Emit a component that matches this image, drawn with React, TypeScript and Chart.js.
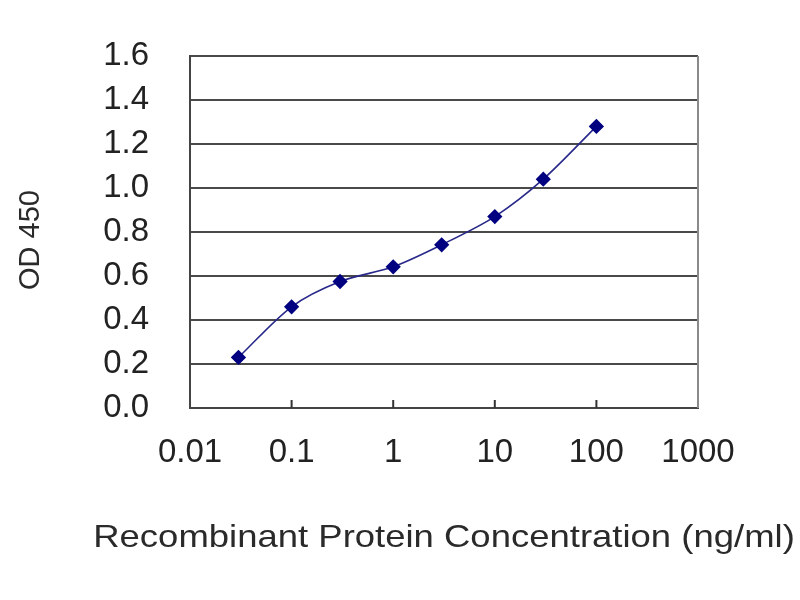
import React, { useEffect, useRef } from "react";
import { Chart, registerables } from "chart.js";

Chart.register(...registerables);

const concentrations = [0.03, 0.1, 0.3, 1, 3, 10, 30, 100];
const odValues = [0.23, 0.46, 0.575, 0.642, 0.742, 0.87, 1.04, 1.28];
const xTickValues = [0.01, 0.1, 1, 10, 100, 1000];
const xTickLabels = ["0.01", "0.1", "1", "10", "100", "1000"];
const xTitle = "Recombinant Protein Concentration (ng/ml)";
const yTitle = "OD 450";

const FONT = "'Liberation Sans', Arial, sans-serif";

const decorPlugin = {
  id: "decor",
  afterDraw(chart: any) {
    const { ctx, chartArea, scales } = chart;
    ctx.save();
    // right border
    ctx.strokeStyle = "#8a8a8a";
    ctx.lineWidth = 2;
    ctx.beginPath();
    ctx.moveTo(chartArea.right, chartArea.top);
    ctx.lineTo(chartArea.right, chartArea.bottom);
    ctx.stroke();
    // inner decade ticks
    ctx.strokeStyle = "#333";
    ctx.lineWidth = 2;
    xTickValues.slice(1, -1).forEach((v) => {
      const px = scales.x.getPixelForValue(v);
      ctx.beginPath();
      ctx.moveTo(px, chartArea.bottom);
      ctx.lineTo(px, chartArea.bottom - 8);
      ctx.stroke();
    });
    // titles
    ctx.fillStyle = "#2a2a2a";
    ctx.textAlign = "center";
    ctx.textBaseline = "middle";
    ctx.save();
    ctx.translate(444, 538);
    ctx.scale(1.14, 1);
    ctx.font = `32px ${FONT}`;
    ctx.fillText(xTitle, 0, 0);
    ctx.restore();
    ctx.translate(31, 240);
    ctx.rotate(-Math.PI / 2);
    ctx.font = `29px ${FONT}`;
    ctx.fillText(yTitle, 0, 0);
    ctx.restore();
  },
};

export default function App() {
  const ref = useRef<HTMLCanvasElement | null>(null);
  useEffect(() => {
    if (!ref.current) return;
    const chart = new Chart(ref.current, {
      type: "line",
      data: {
        datasets: [
          {
            data: concentrations.map((c, i) => ({ x: c, y: odValues[i] })),
            borderColor: "#28288a",
            borderWidth: 1.6,
            tension: 0.3,
            pointStyle: "rectRot",
            pointRadius: 6.5,
            pointBackgroundColor: "#000080",
            pointBorderColor: "#000080",
            fill: false,
          },
        ],
      },
      options: {
        animation: false,
        responsive: false,
        events: [],
        layout: { padding: { left: 0, top: 56, right: 102, bottom: 0 } },
        plugins: { legend: { display: false }, tooltip: { enabled: false } },
        scales: {
          x: {
            type: "logarithmic",
            min: 0.01,
            max: 1000,
            afterBuildTicks: (scale: any) => {
              scale.ticks = xTickValues.map((v) => ({ value: v }));
            },
            afterFit: (scale: any) => {
              scale.height = 192;
            },
            ticks: {
              autoSkip: false,
              maxRotation: 0,
              padding: 25,
              color: "#222",
              font: { family: FONT, size: 33 },
              callback: (value: any) => {
                const i = xTickValues.indexOf(Number(value));
                return i >= 0 ? xTickLabels[i] : "";
              },
            },
            grid: { display: false, drawTicks: false },
            border: { display: true, color: "#444", width: 2 },
          },
          y: {
            min: 0,
            max: 1.6,
            afterFit: (scale: any) => {
              scale.width = 190;
              scale.paddingTop = 0;
              scale.paddingBottom = 0;
            },
            ticks: {
              stepSize: 0.2,
              padding: 41,
              color: "#222",
              font: { family: FONT, size: 33 },
              callback: (value: any) => Number(value).toFixed(1),
            },
            grid: { color: "#4a4a4a", lineWidth: 2, drawTicks: false },
            border: { display: true, color: "#444", width: 2 },
          },
        },
      },
      plugins: [decorPlugin],
    });
    return () => chart.destroy();
  }, []);
  return (
    <div style={{ position: "absolute", left: 0, top: 0, width: 800, height: 600, background: "#fff" }}>
      <canvas ref={ref} width={800} height={600} style={{ width: 800, height: 600 }} />
    </div>
  );
}
